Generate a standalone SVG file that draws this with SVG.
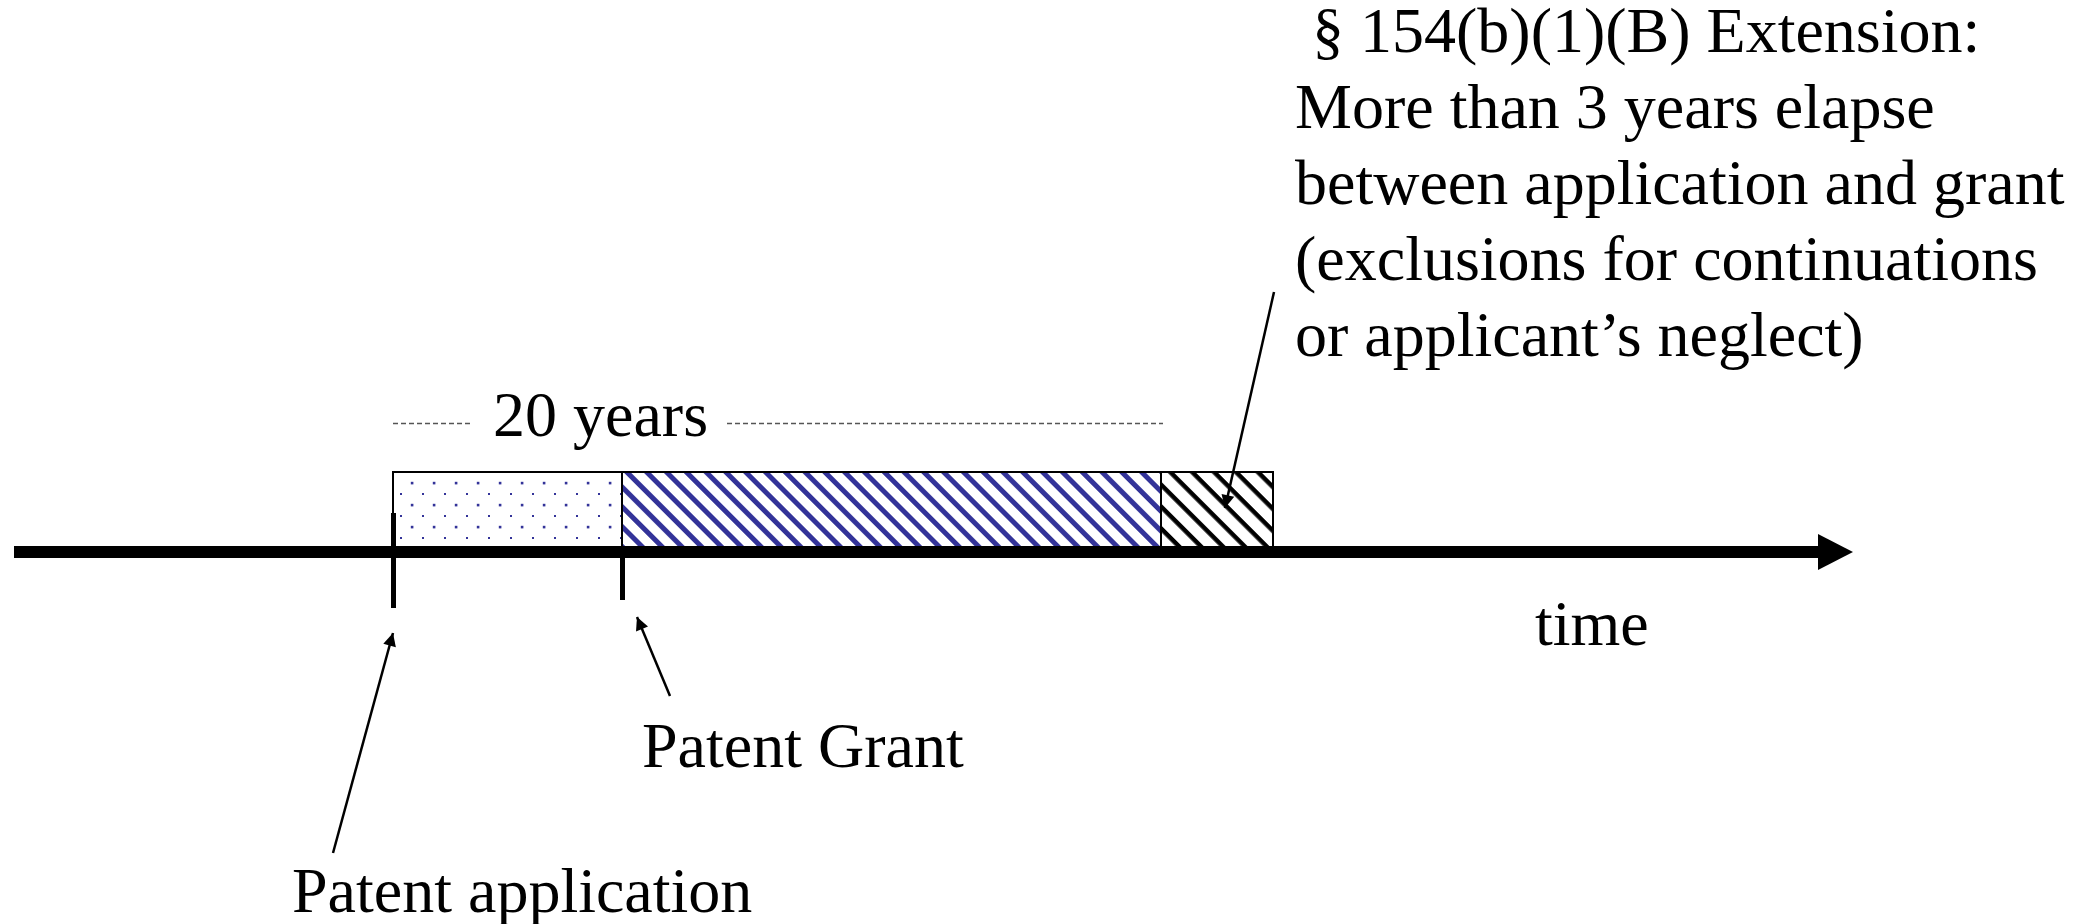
<svg xmlns="http://www.w3.org/2000/svg" width="2096" height="924" viewBox="0 0 2096 924">
<style>
.t{font-family:"Liberation Serif","Times New Roman",serif;font-size:64px;fill:#000}
.seg{stroke:#000;stroke-width:2}
.lbl{stroke:#000;stroke-width:2.5;fill:none;marker-end:url(#ah)}
.dash{stroke:#555;stroke-width:1.5;stroke-dasharray:5 3;fill:none}
</style>
<defs>
<marker id="ah" viewBox="0 0 10 10" refX="10" refY="5" markerWidth="19" markerHeight="13" markerUnits="userSpaceOnUse" orient="auto">
<path d="M0,0 L10,5 L0,10 z" fill="#000"/>
</marker>
<pattern id="dots" patternUnits="userSpaceOnUse" x="393" y="472" width="22" height="22">
<rect width="22" height="22" fill="#fff"/>
<rect x="17.8" y="9.8" width="2.6" height="2.6" fill="#333399"/>
<rect x="7" y="-1" width="2" height="2" fill="#333399"/>
<rect x="7" y="21" width="2" height="2" fill="#333399"/>
</pattern>
<pattern id="blueHatch" patternUnits="userSpaceOnUse" width="14" height="14" patternTransform="rotate(45)">
<rect width="14" height="14" fill="#fff"/>
<rect width="14" height="5" fill="#333399"/>
</pattern>
<pattern id="blackHatch" patternUnits="userSpaceOnUse" width="15.5" height="15.5" patternTransform="rotate(45)">
<rect width="15.5" height="15.5" fill="#fff"/>
<rect width="15.5" height="4.5" fill="#000"/>
</pattern>
</defs>
<rect width="2096" height="924" fill="#fff"/>
<g id="term-bar">
<rect class="seg" x="393" y="472" width="229" height="78" fill="url(#dots)"/>
<rect class="seg" x="622" y="472" width="539" height="78" fill="url(#blueHatch)"/>
<rect class="seg" x="1161" y="472" width="112" height="78" fill="url(#blackHatch)"/>
</g>
<g id="timeline">
<rect x="14" y="546" width="1806" height="12" fill="#000"/>
<polygon points="1818,534 1853,552 1818,570" fill="#000"/>
<rect x="391" y="513" width="5" height="95" fill="#000"/>
<rect x="620" y="550" width="5" height="50" fill="#000"/>
<text class="t" x="1535" y="645">time</text>
</g>
<g id="twenty-years">
<line class="dash" x1="393" y1="423.5" x2="473" y2="423.5"/>
<line class="dash" x1="727" y1="423.5" x2="1163" y2="423.5"/>
<text class="t" x="493" y="436">20 years</text>
</g>
<g id="patent-application">
<text class="t" x="292" y="912">Patent application</text>
</g>
<g id="patent-grant">
<text class="t" x="642" y="767">Patent Grant</text>
</g>
<g id="extension">
<text class="t" x="1312" y="52">§ 154(b)(1)(B) Extension:</text>
<text class="t" x="1295" y="128">More than 3 years elapse</text>
<text class="t" x="1295" y="204">between application and grant</text>
<text class="t" x="1295" y="280">(exclusions for continuations</text>
<text class="t" x="1295" y="356">or applicant’s neglect)</text>
</g>
<g id="connectors">
<line class="lbl" x1="333" y1="853" x2="393" y2="633"/>
<line class="lbl" x1="670" y1="696" x2="637" y2="617"/>
<line class="lbl" x1="1274" y1="292" x2="1225" y2="508"/>
</g>
</svg>
